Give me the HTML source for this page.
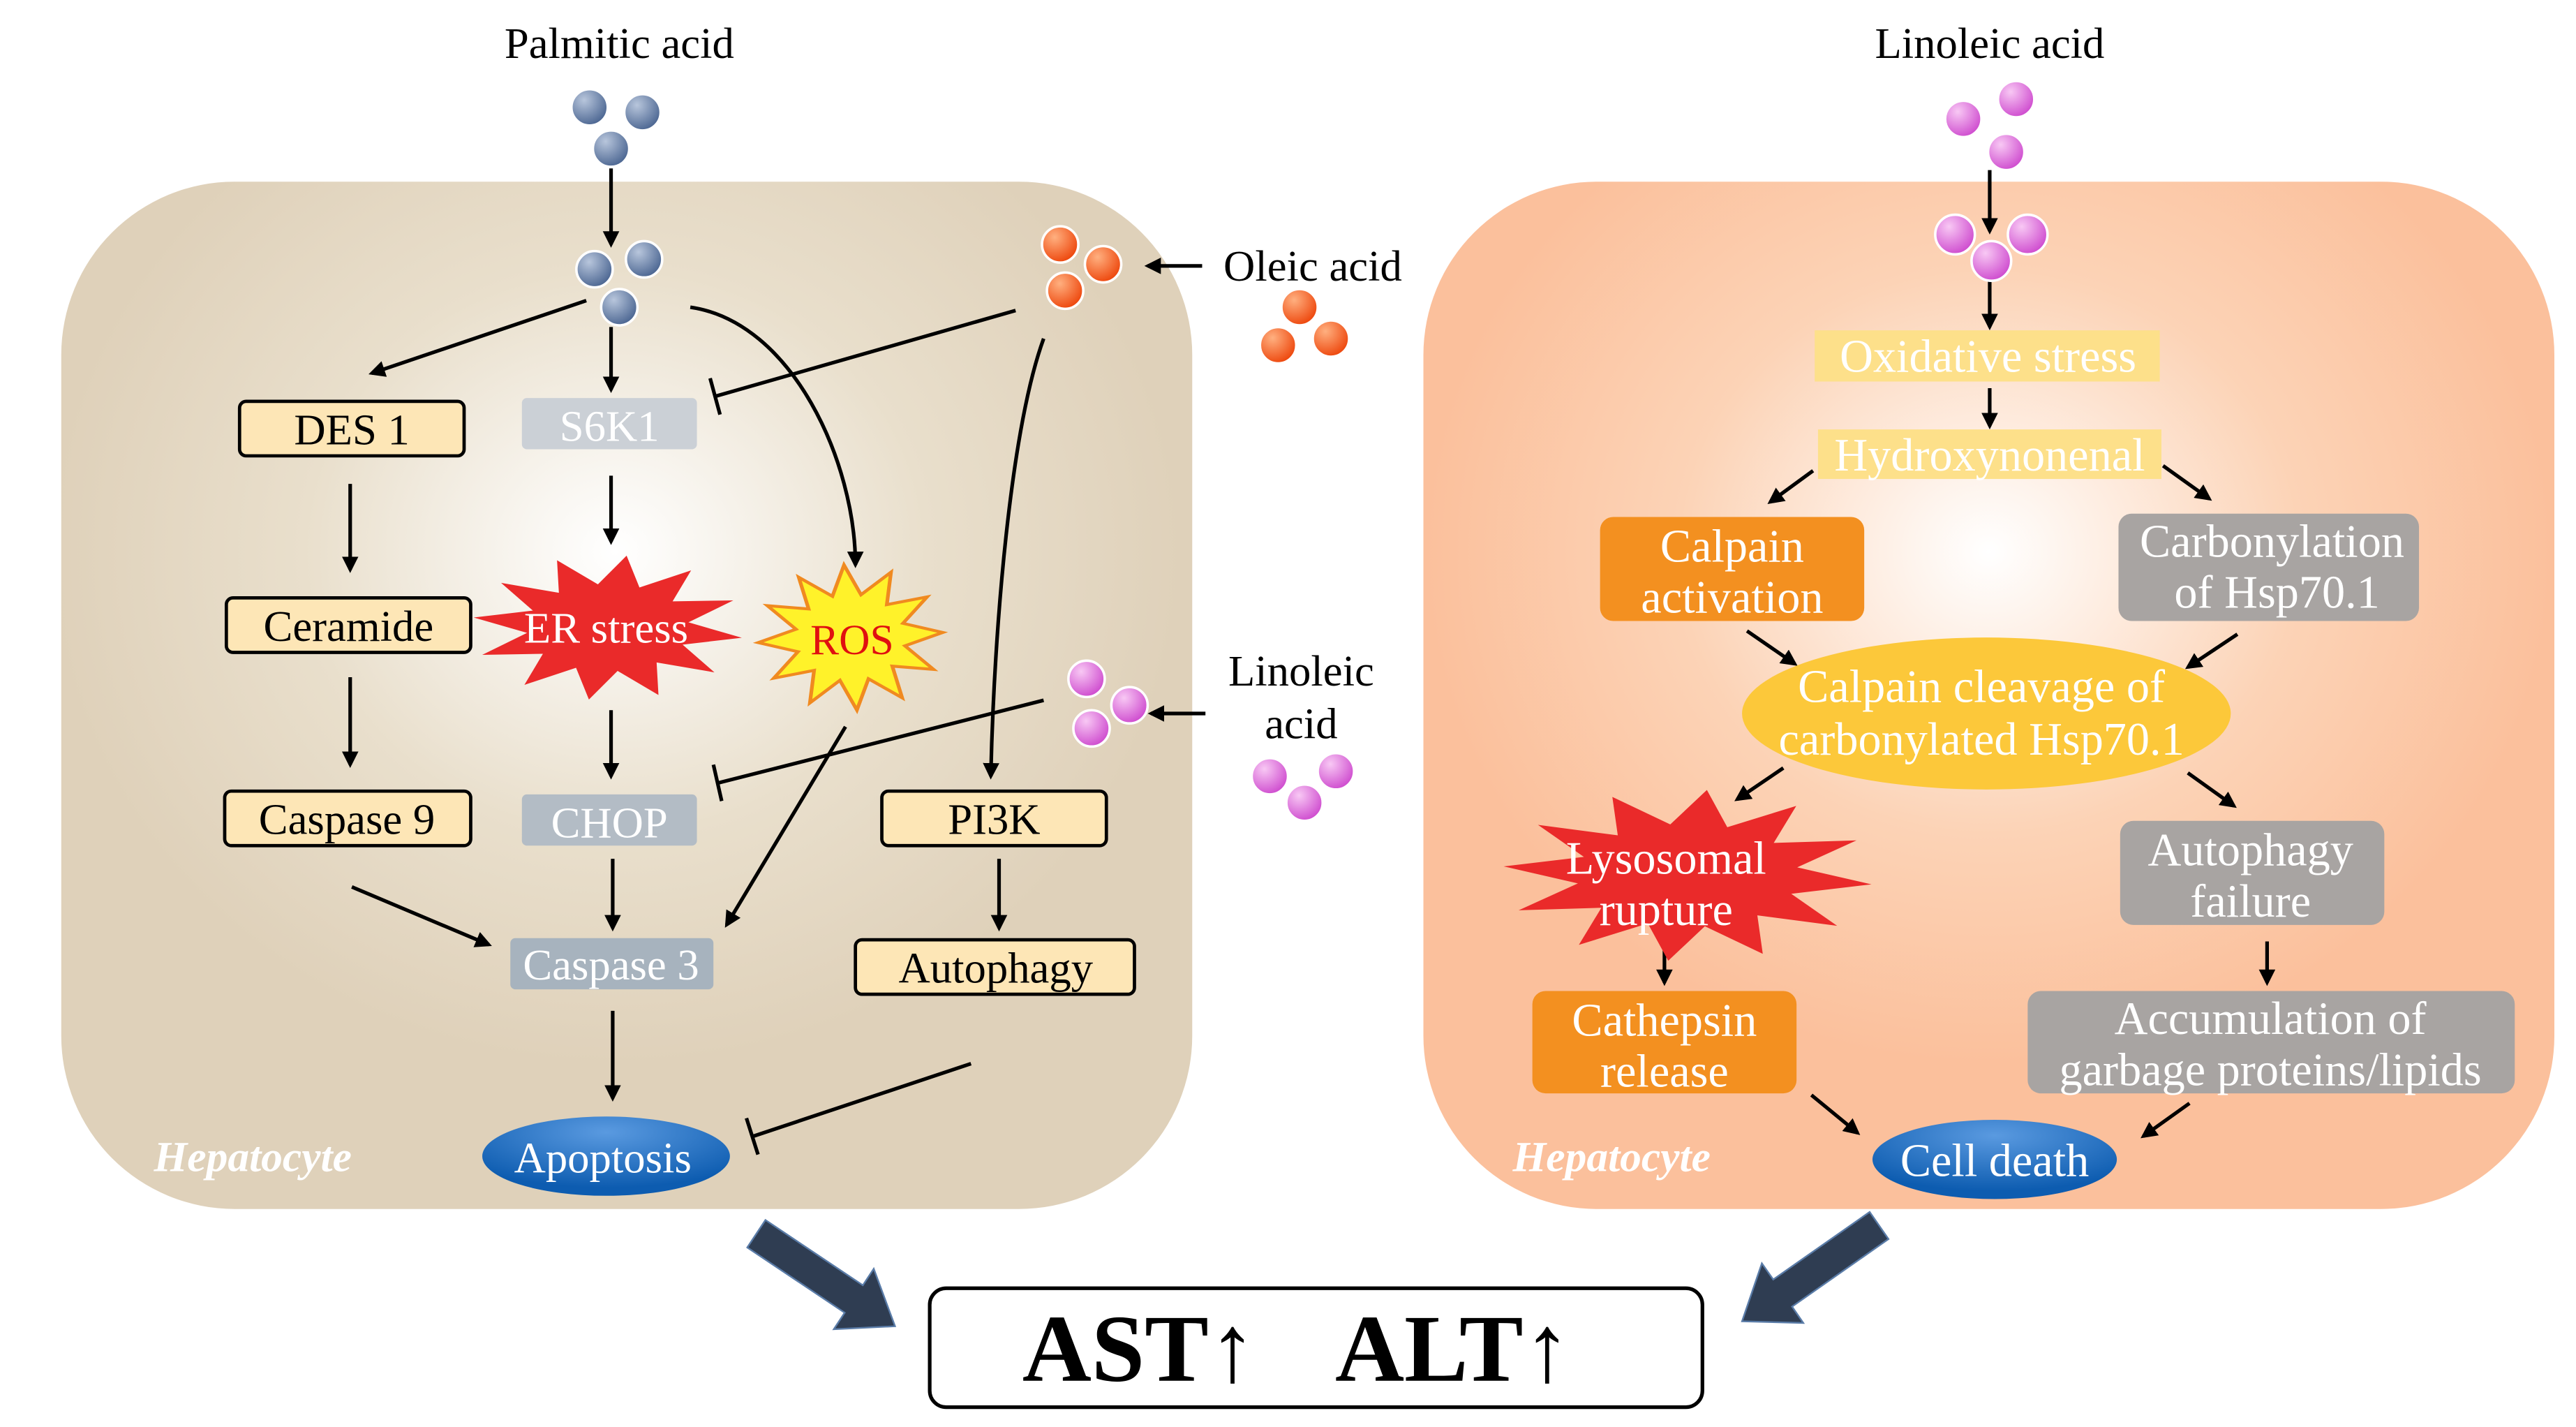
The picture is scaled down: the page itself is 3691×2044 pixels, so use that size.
<!DOCTYPE html>
<html><head><meta charset="utf-8"><style>
html,body{margin:0;padding:0;background:#fff;}
svg{display:block;}
text{font-family:"Liberation Serif",serif;}
</style></head><body>
<svg width="3691" height="2044" viewBox="0 0 1560 864" xmlns="http://www.w3.org/2000/svg">
<defs>
<radialGradient id="gl" cx="0.49" cy="0.36" r="0.5">
<stop offset="0" stop-color="#ffffff"/><stop offset="0.55" stop-color="#e9dfcc"/><stop offset="1" stop-color="#dfd1ba"/>
</radialGradient>
<radialGradient id="gr" cx="0.5" cy="0.36" r="0.5">
<stop offset="0" stop-color="#ffffff"/><stop offset="0.55" stop-color="#fcd3b6"/><stop offset="1" stop-color="#fbc09c"/>
</radialGradient>
<radialGradient id="ball_b" cx="0.35" cy="0.3" r="0.7"><stop offset="0" stop-color="#b8c6dc"/><stop offset="1" stop-color="#4f6994"/></radialGradient>
<radialGradient id="ball_o" cx="0.35" cy="0.3" r="0.7"><stop offset="0" stop-color="#ffb080"/><stop offset="1" stop-color="#ee4a10"/></radialGradient>
<radialGradient id="ball_p" cx="0.35" cy="0.3" r="0.7"><stop offset="0" stop-color="#f8c8f4"/><stop offset="1" stop-color="#d050d0"/></radialGradient>
<radialGradient id="blue" cx="0.5" cy="0.2" r="0.7"><stop offset="0" stop-color="#5a9ae0"/><stop offset="1" stop-color="#0d5cb0"/></radialGradient>
<marker id="ah" markerWidth="10" markerHeight="10" refX="8" refY="5" orient="auto" markerUnits="userSpaceOnUse"><path d="M0,0 L10,5 L0,10 Z" fill="#000"/></marker>
<polygon id="star" points="1,0 .58,.155 .866,.5 .424,.424 .5,.866 .155,.58 0,1 -.155,.58 -.5,.866 -.424,.424 -.866,.5 -.58,.155 -1,0 -.58,-.155 -.866,-.5 -.424,-.424 -.5,-.866 -.155,-.58 0,-1 .155,-.58 .5,-.866 .424,-.424 .866,-.5 .58,-.155"/>
</defs>

<rect x="37" y="110" width="685" height="622" rx="105" fill="url(#gl)"/>
<rect x="862" y="110" width="685" height="622" rx="105" fill="url(#gr)"/>

<g fill="none" stroke="#000" stroke-width="2.2">
<line x1="370" y1="102" x2="370" y2="148" marker-end="url(#ah)"/>
<line x1="355" y1="182" x2="225" y2="226" marker-end="url(#ah)"/>
<line x1="370" y1="198" x2="370" y2="236" marker-end="url(#ah)"/>
<path d="M418,186 C480,195 518,280 518,342" marker-end="url(#ah)"/>
<line x1="615" y1="188" x2="433" y2="240"/>
<line x1="430" y1="229" x2="436" y2="251"/>
<path d="M632,205 C612,260 602,380 600,470" marker-end="url(#ah)"/>
<line x1="212" y1="293" x2="212" y2="345" marker-end="url(#ah)"/>
<line x1="370" y1="288" x2="370" y2="328" marker-end="url(#ah)"/>
<line x1="212" y1="410" x2="212" y2="463" marker-end="url(#ah)"/>
<line x1="370" y1="430" x2="370" y2="470" marker-end="url(#ah)"/>
<line x1="632" y1="424" x2="435" y2="474"/>
<line x1="432" y1="463" x2="437" y2="485"/>
<line x1="512" y1="440" x2="440" y2="560" marker-end="url(#ah)"/>
<line x1="605" y1="520" x2="605" y2="562" marker-end="url(#ah)"/>
<line x1="213" y1="537" x2="296" y2="572" marker-end="url(#ah)"/>
<line x1="371" y1="520" x2="371" y2="562" marker-end="url(#ah)"/>
<line x1="371" y1="612" x2="371" y2="665" marker-end="url(#ah)"/>
<line x1="588" y1="644" x2="456" y2="688"/>
<line x1="452" y1="677" x2="459" y2="699"/>
<line x1="728" y1="161" x2="695" y2="161" marker-end="url(#ah)"/>
<line x1="730" y1="432" x2="697" y2="432" marker-end="url(#ah)"/>
<line x1="1205" y1="103" x2="1205" y2="140" marker-end="url(#ah)"/>
<line x1="1205" y1="170" x2="1205" y2="198" marker-end="url(#ah)"/>
<line x1="1205" y1="235" x2="1205" y2="258" marker-end="url(#ah)"/>
<line x1="1098" y1="285" x2="1072" y2="304" marker-end="url(#ah)"/>
<line x1="1310" y1="282" x2="1338" y2="302" marker-end="url(#ah)"/>
<line x1="1058" y1="382" x2="1087" y2="402" marker-end="url(#ah)"/>
<line x1="1355" y1="384" x2="1325" y2="404" marker-end="url(#ah)"/>
<line x1="1080" y1="465" x2="1052" y2="484" marker-end="url(#ah)"/>
<line x1="1325" y1="468" x2="1353" y2="488" marker-end="url(#ah)"/>
<line x1="1008" y1="570" x2="1008" y2="595" marker-end="url(#ah)"/>
<line x1="1373" y1="570" x2="1373" y2="595" marker-end="url(#ah)"/>
<line x1="1097" y1="663" x2="1125" y2="686" marker-end="url(#ah)"/>
<line x1="1326" y1="668" x2="1298" y2="688" marker-end="url(#ah)"/>
</g>

<g stroke="#fff" stroke-width="1.5">
<circle cx="357" cy="65" r="11" fill="url(#ball_b)"/><circle cx="389" cy="68" r="11" fill="url(#ball_b)"/><circle cx="370" cy="90" r="11" fill="url(#ball_b)"/>
<circle cx="360" cy="163" r="11" fill="url(#ball_b)"/><circle cx="390" cy="157" r="11" fill="url(#ball_b)"/><circle cx="375" cy="186" r="11" fill="url(#ball_b)"/>
<circle cx="642" cy="148" r="11" fill="url(#ball_o)"/><circle cx="668" cy="160" r="11" fill="url(#ball_o)"/><circle cx="645" cy="176" r="11" fill="url(#ball_o)"/>
<circle cx="787" cy="186" r="11" fill="url(#ball_o)"/><circle cx="806" cy="205" r="11" fill="url(#ball_o)"/><circle cx="774" cy="209" r="11" fill="url(#ball_o)"/>
<circle cx="658" cy="411" r="11" fill="url(#ball_p)"/><circle cx="684" cy="427" r="11" fill="url(#ball_p)"/><circle cx="661" cy="441" r="11" fill="url(#ball_p)"/>
<circle cx="769" cy="470" r="11" fill="url(#ball_p)"/><circle cx="790" cy="486" r="11" fill="url(#ball_p)"/><circle cx="809" cy="467" r="11" fill="url(#ball_p)"/>
<circle cx="1189" cy="72" r="11" fill="url(#ball_p)"/><circle cx="1221" cy="60" r="11" fill="url(#ball_p)"/><circle cx="1215" cy="92" r="11" fill="url(#ball_p)"/>
<circle cx="1184" cy="142" r="12" fill="url(#ball_p)"/><circle cx="1228" cy="142" r="12" fill="url(#ball_p)"/><circle cx="1206" cy="158" r="12" fill="url(#ball_p)"/>
</g>

<g stroke="#000" stroke-width="2" fill="#fde6b6">
<rect x="145" y="243" width="136" height="33" rx="4"/>
<rect x="137" y="362" width="148" height="33" rx="4"/>
<rect x="136" y="479" width="149" height="33" rx="4"/>
<rect x="534" y="479" width="136" height="33" rx="4"/>
<rect x="518" y="569" width="169" height="33" rx="4"/>
</g>
<rect x="316" y="241" width="106" height="31" rx="3" fill="#cbd0d6"/>
<rect x="316" y="481" width="106" height="31" rx="3" fill="#b3bcc5"/>
<rect x="309" y="568" width="123" height="31" rx="3" fill="#a7b3be"/>
<use href="#star" transform="translate(368,380) scale(82,44) rotate(8)" fill="#ea2a2a"/>
<use href="#star" transform="translate(515,386) scale(56,44) rotate(-4)" fill="#fff22a" stroke="#f08a20" stroke-width="0.04"/>
<ellipse cx="367" cy="700" rx="75" ry="24" fill="url(#blue)"/>

<g font-size="26.5" text-anchor="middle" fill="#000">
<text x="375" y="35">Palmitic acid</text>
<text x="795" y="170">Oleic acid</text>
<text x="788" y="415">Linoleic</text>
<text x="788" y="447">acid</text>
<text x="213" y="269">DES 1</text>
<text x="211" y="388">Ceramide</text>
<text x="210" y="505">Caspase 9</text>
<text x="602" y="505">PI3K</text>
<text x="603" y="595">Autophagy</text>
</g>
<g font-size="26.5" text-anchor="middle" fill="#fff">
<text x="369" y="267">S6K1</text>
<text x="369" y="507">CHOP</text>
<text x="370" y="593">Caspase 3</text>
<text x="367" y="389">ER stress</text>
<text x="365" y="710">Apoptosis</text>
</g>
<text x="516" y="396" font-size="26" text-anchor="middle" fill="#e01010">ROS</text>
<text x="153" y="709" font-size="26" font-style="italic" font-weight="bold" text-anchor="middle" fill="#fff">Hepatocyte</text>

<rect x="1099" y="200" width="209" height="31" fill="#fde08a"/>
<rect x="1101" y="260" width="208" height="30" fill="#fde08a"/>
<rect x="969" y="313" width="160" height="63" rx="8" fill="#f39020"/>
<rect x="1283" y="311" width="182" height="65" rx="8" fill="#a8a4a2"/>
<ellipse cx="1203" cy="432" rx="148" ry="46" fill="#fcc83a"/>
<use href="#star" transform="translate(1022,530) scale(112,52) rotate(6)" fill="#ea2a2a"/>
<rect x="928" y="600" width="160" height="62" rx="8" fill="#f39020"/>
<rect x="1284" y="497" width="160" height="63" rx="8" fill="#a8a4a2"/>
<rect x="1228" y="600" width="295" height="62" rx="8" fill="#a8a4a2"/>
<ellipse cx="1208" cy="702" rx="74" ry="24" fill="url(#blue)"/>

<text x="1205" y="35" font-size="26.5" text-anchor="middle" fill="#000">Linoleic acid</text>
<g font-size="28" text-anchor="middle" fill="#fff">
<text x="1204" y="225">Oxidative stress</text>
<text x="1205" y="285">Hydroxynonenal</text>
<text x="1049" y="340">Calpain</text>
<text x="1049" y="371">activation</text>
<text x="1376" y="337">Carbonylation</text>
<text x="1379" y="368">of Hsp70.1</text>
<text x="1200" y="425">Calpain cleavage of</text>
<text x="1200" y="457">carbonylated Hsp70.1</text>
<text x="1009" y="529">Lysosomal</text>
<text x="1009" y="560">rupture</text>
<text x="1008" y="627">Cathepsin</text>
<text x="1008" y="658">release</text>
<text x="1363" y="524">Autophagy</text>
<text x="1363" y="555">failure</text>
<text x="1375" y="626">Accumulation of</text>
<text x="1375" y="657">garbage proteins/lipids</text>
<text x="1208" y="712">Cell death</text>
</g>
<text x="976" y="709" font-size="26" font-style="italic" font-weight="bold" text-anchor="middle" fill="#fff">Hepatocyte</text>

<polygon points="452.5,755.3 511.5,794.8 504.9,804.8 542,803 529.1,768.2 522.5,778.2 463.5,738.7" fill="#2f3d52" stroke="#5a7ca8" stroke-width="1"/>
<polygon points="1132.3,733.8 1073.9,774.7 1067,764.9 1055,800 1092.1,801 1085.3,791.1 1143.7,750.2" fill="#2f3d52" stroke="#5a7ca8" stroke-width="1"/>

<rect x="563" y="780" width="468" height="72" rx="10" fill="#fff" stroke="#000" stroke-width="2.2"/>
<text x="690" y="836" font-size="58" font-weight="bold" text-anchor="middle" fill="#000">AST↑</text>
<text x="880" y="836" font-size="58" font-weight="bold" text-anchor="middle" fill="#000">ALT↑</text>
</svg>
</body></html>
